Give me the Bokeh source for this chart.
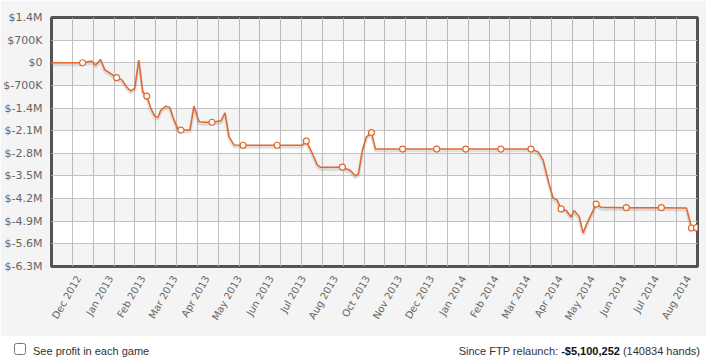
import math
from bokeh.plotting import figure
from bokeh.models import FixedTicker, Div, ColumnDataSource
from bokeh.layouts import column
from bokeh.transform import dodge
from bokeh.embed import file_html
from bokeh.resources import INLINE

# ---- data (days since 2012-11-20, cumulative profit in $) ----
days = [0, 31, 40, 44, 49, 53, 58, 65, 70, 75, 79, 83, 87, 91, 95, 99, 103, 106, 109, 114,
        118, 121, 126, 129, 138, 142, 147, 152, 160, 169, 173, 177, 182, 191, 225, 250, 254,
        260, 265, 268, 290, 298, 303, 306, 310, 314, 319, 323, 350, 384, 413, 448, 478, 485,
        490, 495, 500, 504, 508, 513, 518, 521, 526, 530, 534, 543, 548, 573, 608, 633, 636,
        638, 643]
profit = [0, 0, 55000, -68000, 100000, -210000, -310000, -460000, -520000, -750000,
          -870000, -790000, 80000, -900000, -1030000, -1410000, -1650000, -1690000, -1460000,
          -1340000, -1380000, -1670000, -2060000, -2080000, -2080000, -1340000, -1820000,
          -1840000, -1840000, -1790000, -1550000, -2290000, -2540000, -2550000, -2550000,
          -2550000, -2420000, -2800000, -3160000, -3230000, -3230000, -3330000, -3500000,
          -3430000, -2700000, -2290000, -2160000, -2670000, -2670000, -2670000, -2670000,
          -2670000, -2670000, -2750000, -3000000, -3620000, -4180000, -4240000, -4520000,
          -4560000, -4770000, -4570000, -4750000, -5260000, -4950000, -4370000, -4470000,
          -4480000, -4480000, -4490000, -4850000, -5110000, -5100252]
marked = [0, 1, 0, 0, 0, 0, 0, 1, 0, 0, 0, 0, 0, 0, 1, 0, 0, 0, 0, 0,
          0, 0, 0, 1, 0, 0, 0, 0, 1, 0, 0, 0, 0, 1, 1, 0, 1,
          0, 0, 0, 1, 0, 0, 0, 0, 0, 1, 0, 1, 1, 1, 1, 1, 0,
          0, 0, 0, 0, 1, 0, 0, 0, 0, 0, 0, 1, 0, 1, 1, 0, 0,
          1, 1]

x_tick_days = [27, 59, 91, 123, 155, 187, 219, 251, 283, 315, 347, 379, 411, 443, 475,
               507, 539, 571, 603, 635]
x_tick_labels = ["Dec 2012", "Jan 2013", "Feb 2013", "Mar 2013", "Apr 2013", "May 2013",
                 "Jun 2013", "Jul 2013", "Aug 2013", "Oct 2013", "Nov 2013", "Dec 2013",
                 "Jan 2014", "Feb 2014", "Mar 2014", "Apr 2014", "May 2014", "Jun 2014",
                 "Jul 2014", "Aug 2014"]
y_ticks = [1400000, 700000, 0, -700000, -1400000, -2100000, -2800000, -3500000,
           -4200000, -4900000, -5600000, -6300000]
y_tick_labels = ["$1.4M", "$700K", "$0", "$-700K", "$-1.4M", "$-2.1M", "$-2.8M",
                 "$-3.5M", "$-4.2M", "$-4.9M", "$-5.6M", "$-6.3M"]

x_start, x_end = 0, 644
x_grid_count = 31

checkbox_label = "See profit in each game"
summary_prefix = "Since FTP relaunch: "
summary_amount = "-$5,100,252"
summary_suffix = " (140834 hands)"

# ---- figure ----
ORANGE = "#e2682c"
p = figure(width=706, height=336, x_range=(x_start, x_end), y_range=(y_ticks[-1], y_ticks[0]),
           output_backend="svg", toolbar_location=None,
           min_border_left=50, min_border_right=9, min_border_top=17, min_border_bottom=70)
p.background_fill_color = "white"
p.border_fill_color = "#f4f4f4"
p.outline_line_color = "#555555"
p.outline_line_width = 3

src = ColumnDataSource(dict(x=days, y=profit))
msrc = ColumnDataSource(dict(x=[d for d, m in zip(days, marked) if m],
                             y=[v for v, m in zip(profit, marked) if m]))

p.line(x="x", y=dodge("y", -60000, range=p.y_range), source=src,
       line_color="#888888", line_alpha=0.25, line_width=3)
p.line(x="x", y="y", source=src, line_color=ORANGE, line_width=1.5)
p.scatter(x="x", y="y", source=msrc, size=6, fill_color="white",
          line_color=ORANGE, line_width=1.2)

# axes
p.xaxis.ticker = FixedTicker(ticks=x_tick_days)
p.xaxis.major_label_overrides = {t: l for t, l in zip(x_tick_days, x_tick_labels)}
p.xaxis.major_label_orientation = math.pi / 3
p.yaxis.ticker = FixedTicker(ticks=y_ticks)
p.yaxis.major_label_overrides = {t: l for t, l in zip(y_ticks, y_tick_labels)}
for ax in (p.xaxis[0], p.yaxis[0]):
    ax.axis_line_color = None
    ax.major_tick_line_color = None
    ax.minor_tick_line_color = None
    ax.major_label_text_color = "#666666"
    ax.major_label_text_font = "DejaVu Sans"
p.yaxis.major_label_text_font_size = "11px"
p.xaxis.major_label_text_font_size = "10px"
p.yaxis.major_label_standoff = 3
p.xaxis.major_label_standoff = 4

# grids
step = (x_end - x_start) / x_grid_count
p.xgrid.ticker = FixedTicker(ticks=[x_start + k * step for k in range(x_grid_count + 1)])
p.xgrid.grid_line_color = "#c2c2c2"
p.ygrid.grid_line_color = "#c2c2c2"
p.ygrid.band_fill_color = "black"
p.ygrid.band_fill_alpha = 0.045

footer = Div(text=(
    '<div style="position:relative;width:706px;height:20px;'
    'font-family:\'Liberation Sans\',Arial,sans-serif;font-size:11px;color:#333;">'
    '<input type="checkbox" style="position:absolute;left:9px;top:2px;margin:0;'
    'width:12px;height:12px;">'
    f'<span style="position:absolute;left:28px;top:3px;">{checkbox_label}</span>'
    f'<span style="position:absolute;right:11px;top:3px;">{summary_prefix}'
    f'<b style="color:#111">{summary_amount}</b>{summary_suffix}</span></div>'),
    width=706, height=20)

layout = column(p, footer, spacing=0)
html = file_html(layout, INLINE)
html = html.replace("<body>", '<body style="background:#f4f4f4">', 1)
open("out.html", "w").write(html)
